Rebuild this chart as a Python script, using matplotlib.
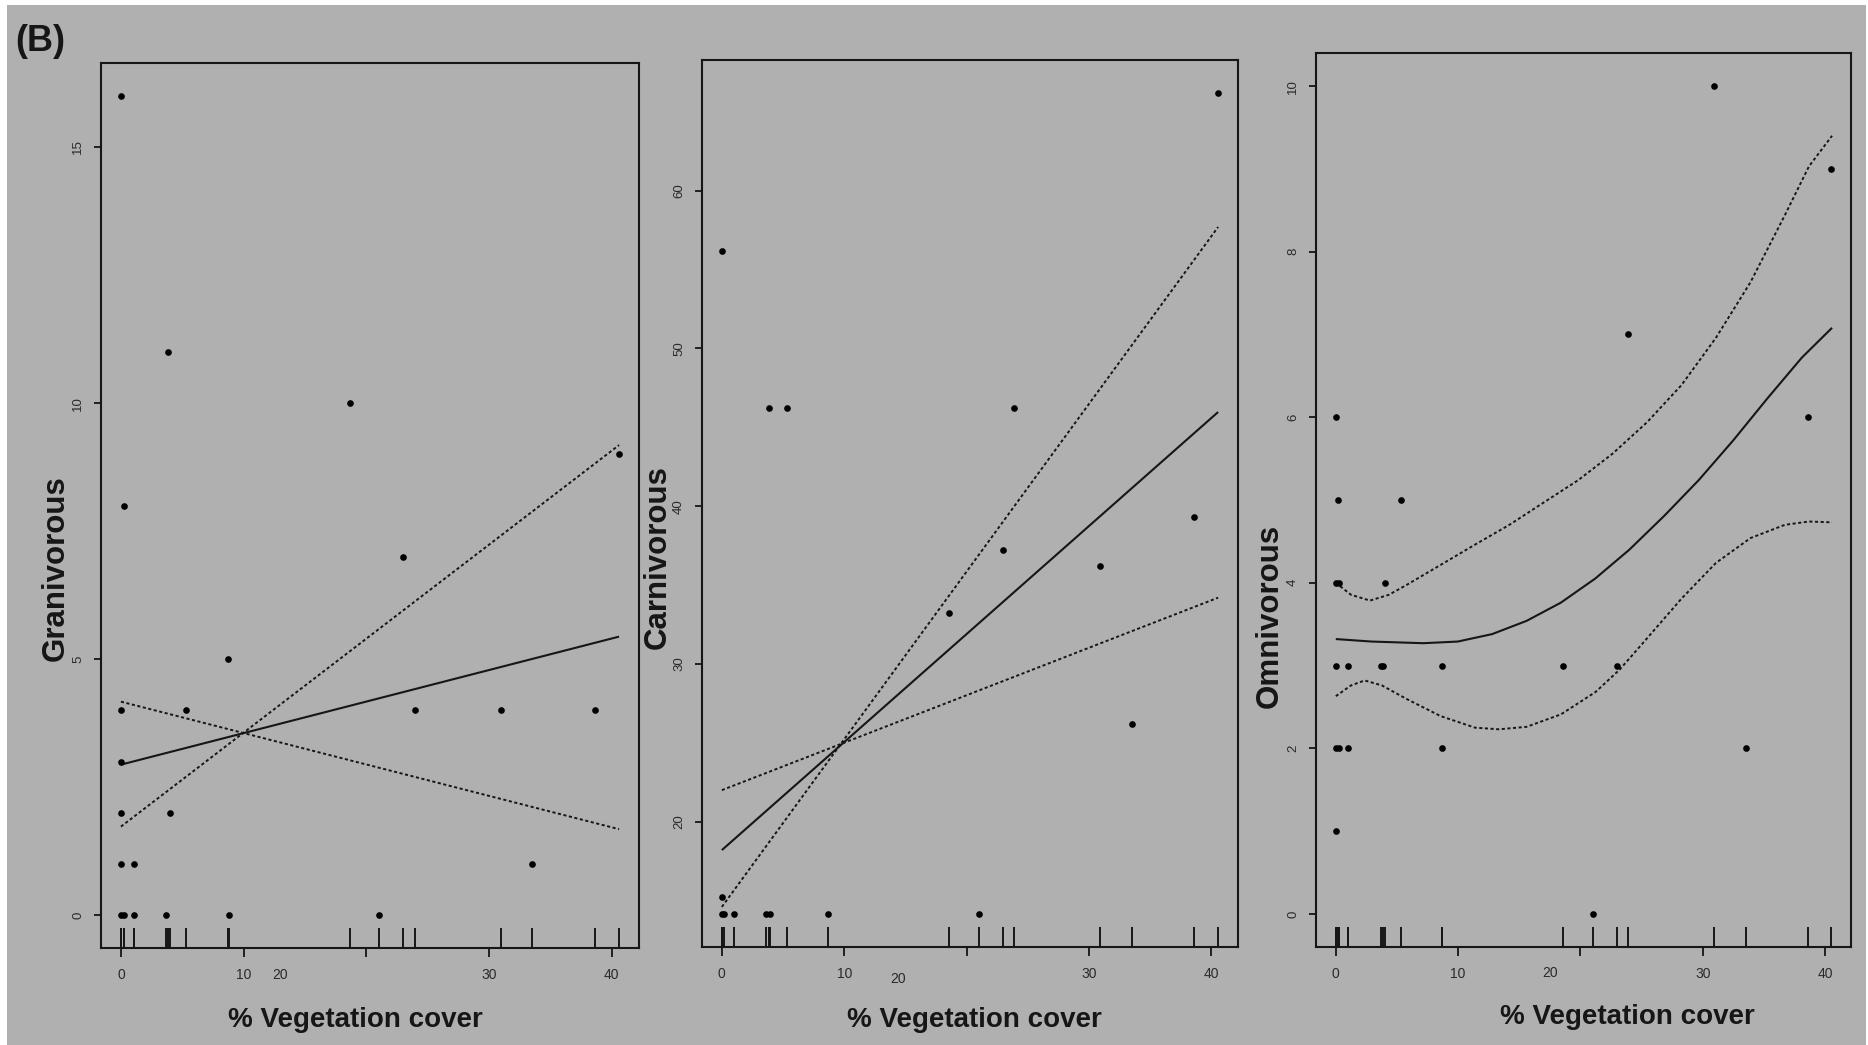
import matplotlib
matplotlib.use("Agg")
import matplotlib.pyplot as plt
from matplotlib import font_manager
from matplotlib.patches import Rectangle
import numpy as np

# ---------------- data ----------------
# Panel 1: Granivorous
gran_x = [0, 3.87, 18.67, 40.6, 0.27, 23.03, 8.7, 0, 5.33, 23.93, 31.0, 38.67,
          0, 0, 4.03, 0, 1.03, 33.53, 0, 0.27, 1.03, 3.7, 8.77, 21.03]
gran_y = [16, 11, 10, 9, 8, 7, 5, 4, 4, 4, 4, 4,
          3, 2, 2, 1, 1, 1, 0, 0, 0, 0, 0, 0]
gran_fit_x = [0, 40.6]
gran_fit = [2.94, 5.44]
gran_upper = [1.73, 9.18]
gran_lower = [4.17, 1.68]

# Panel 2: Carnivorous
carn_x = [40.55, 0, 3.84, 5.32, 23.87, 38.55, 23.0, 30.9, 18.6, 33.5, 0,
          0, 0.2, 1.03, 3.6, 3.9, 8.7, 21.0]
carn_y = [66.2, 56.2, 46.2, 46.2, 46.2, 39.3, 37.2, 36.2, 33.2, 26.2, 15.2,
          14.14, 14.14, 14.14, 14.14, 14.14, 14.14, 14.14]
carn_fit_x = [0, 40.55]
carn_fit = [18.2, 45.97]
carn_upper = [14.6, 57.7]
carn_lower = [22.0, 34.2]

# Panel 3: Omnivorous
omni_x = [30.95, 40.5, 23.9, 0, 38.6, 0.2, 5.3, 0, 0.26, 4.0, 0, 1.0, 3.7, 3.85,
          8.7, 18.6, 23.0, 0, 0.26, 1.0, 8.7, 33.5, 0, 21.0]
omni_y = [10, 9, 7, 6, 6, 5, 5, 4, 4, 4, 3, 3, 3, 3,
          3, 3, 3, 2, 2, 2, 2, 2, 1, 0]
omni_fit_x = [0, 2.93, 7.15, 9.97, 12.78, 15.6, 18.4, 21.2, 24.0, 26.86, 29.67,
              32.49, 35.3, 38.1, 40.57]
omni_fit = [3.32, 3.29, 3.27, 3.29, 3.38, 3.54, 3.76, 4.05, 4.40, 4.81, 5.24,
            5.72, 6.23, 6.72, 7.08]
omni_up_x = [0, 1.24, 2.79, 4.34, 5.74, 8.56, 11.37, 14.19, 17.0, 19.82, 22.63,
             25.45, 28.27, 31.08, 33.9, 36.71, 38.68, 40.57]
omni_up = [4.0, 3.855, 3.785, 3.855, 3.97, 4.215, 4.46, 4.70, 4.97, 5.24, 5.56,
           5.94, 6.39, 6.96, 7.63, 8.44, 9.03, 9.40]
omni_lo_x = [0, 1.24, 2.36, 3.77, 5.74, 8.56, 11.37, 13.34, 15.6, 18.4, 21.23,
             23.2, 25.45, 28.27, 31.08, 33.9, 36.71, 38.68, 40.57]
omni_lo = [2.63, 2.76, 2.82, 2.76, 2.60, 2.39, 2.25, 2.23, 2.26, 2.41, 2.68,
           2.95, 3.33, 3.81, 4.24, 4.54, 4.70, 4.74, 4.73]

x_ticks = [0, 10, 20, 30, 40]
x_ticklabels = ["0", "10", "", "30", "40"]
stray_label = "20"
gran_yticks = [0, 5, 10, 15]
carn_yticks = [20, 30, 40, 50, 60]
omni_yticks = [0, 2, 4, 6, 8, 10]
xlabel = "% Vegetation cover"
ylabels = ["Granivorous", "Carnivorous", "Omnivorous"]
panel_tag = "(B)"

# ---------------- fonts ----------------
def has_font(name):
    try:
        font_manager.findfont(font_manager.FontProperties(family=name),
                              fallback_to_default=False)
        return True
    except Exception:
        return False

if has_font("Liberation Sans Narrow"):
    NARROW, XLAB_FS = "Liberation Sans Narrow", 23
else:
    NARROW, XLAB_FS = "Liberation Sans", 20
REG = "Liberation Sans"

W, H = 1868, 1045
BG = "#b0b0b0"
INK = "#161616"

fig = plt.figure(figsize=(W / 100, H / 100), dpi=100, facecolor="white")
fig.patches.append(Rectangle((7 / W, 0), (1866 - 7) / W, (H - 5) / H,
                             transform=fig.transFigure, facecolor=BG,
                             edgecolor="none", zorder=-10))

def fr(l, t, r, b):
    return [l / W, 1 - b / H, (r - l) / W, (b - t) / H]

rects = [fr(101, 63, 639, 948), fr(702, 60, 1238, 947), fr(1316, 53, 1851, 947)]

panels = [
    dict(x=gran_x, y=gran_y, yt=gran_yticks,
         lines=[(gran_fit_x, gran_fit, "-"), (gran_fit_x, gran_upper, ":"),
                (gran_fit_x, gran_lower, ":")],
         stray=(13.0, 19.5)),
    dict(x=carn_x, y=carn_y, yt=carn_yticks,
         lines=[(carn_fit_x, carn_fit, "-"), (carn_fit_x, carn_upper, ":"),
                (carn_fit_x, carn_lower, ":")],
         stray=(14.4, 23.0)),
    dict(x=omni_x, y=omni_y, yt=omni_yticks,
         lines=[(omni_fit_x, omni_fit, "-"), (omni_up_x, omni_up, ":"),
                (omni_lo_x, omni_lo, ":")],
         stray=(17.5, 18.5)),
]

for rect, p in zip(rects, panels):
    ax = fig.add_axes(rect)
    ax.set_facecolor(BG)
    xs = np.array(p["x"], float)
    ys = np.array(p["y"], float)
    # R-style 4% extension
    xr = xs.max() - xs.min()
    yr = ys.max() - ys.min()
    ax.set_xlim(xs.min() - 0.04 * xr, xs.max() + 0.04 * xr)
    ax.set_ylim(ys.min() - 0.04 * yr, ys.max() + 0.04 * yr)

    for lx, ly, ls in p["lines"]:
        if ls == "-":
            ax.plot(lx, ly, color=INK, lw=1.5, solid_capstyle="butt",
                    solid_joinstyle="round", zorder=3)
        else:
            ax.plot(lx, ly, color=INK, lw=1.4, linestyle=(0, (1.6, 1.3)),
                    dash_joinstyle="round", zorder=3)

    ax.plot(xs, ys, "o", color="black", ms=4.8, mew=0, zorder=4)

    # rug
    trans = ax.get_xaxis_transform()
    for xv in xs:
        ax.plot([xv, xv], [0, 20 / 885], transform=trans, color=INK, lw=1.4,
                solid_capstyle="butt", zorder=2)

    ax.set_xticks(x_ticks)
    ax.set_xticklabels(x_ticklabels, fontfamily=NARROW, fontsize=10, color="#2a2a2a")
    ax.set_yticks(p["yt"])
    ax.set_yticklabels([str(v) for v in p["yt"]], fontfamily=REG, fontsize=9.5,
                       color="#2a2a2a", rotation=90, va="center")
    ax.tick_params(axis="x", length=6.5, width=1.3, pad=8, color=INK)
    ax.tick_params(axis="y", length=5.2, width=1.3, pad=7, color=INK)
    for s in ax.spines.values():
        s.set_linewidth(1.5)
        s.set_color(INK)

    sx, sdy = p["stray"]
    ax.annotate(stray_label, xy=(sx, 0), xycoords=("data", "axes fraction"),
                xytext=(0, -sdy), textcoords="offset points", ha="center",
                va="center", fontfamily=NARROW, fontsize=10, color="#2a2a2a")

# axis titles
for (cx, cy) in [(355, 1020), (974, 1020), (1627, 1017)]:
    fig.text(cx / W, 1 - cy / H, xlabel, fontfamily=NARROW, fontweight="bold",
             fontsize=XLAB_FS, ha="center", va="center", color=INK)
for lab, (cx, cy) in zip(ylabels, [(56, 568), (658, 557), (1270, 616)]):
    fig.text(cx / W, 1 - cy / H, lab, fontfamily=REG, fontweight="bold",
             fontsize=22.5, ha="center", va="center", rotation=90, color=INK)

fig.text(40 / W, 1 - 42 / H, panel_tag, fontfamily=REG, fontweight="bold",
         fontsize=26, ha="center", va="center", color=INK)

fig.savefig("out.png", dpi=100, facecolor=fig.get_facecolor())
